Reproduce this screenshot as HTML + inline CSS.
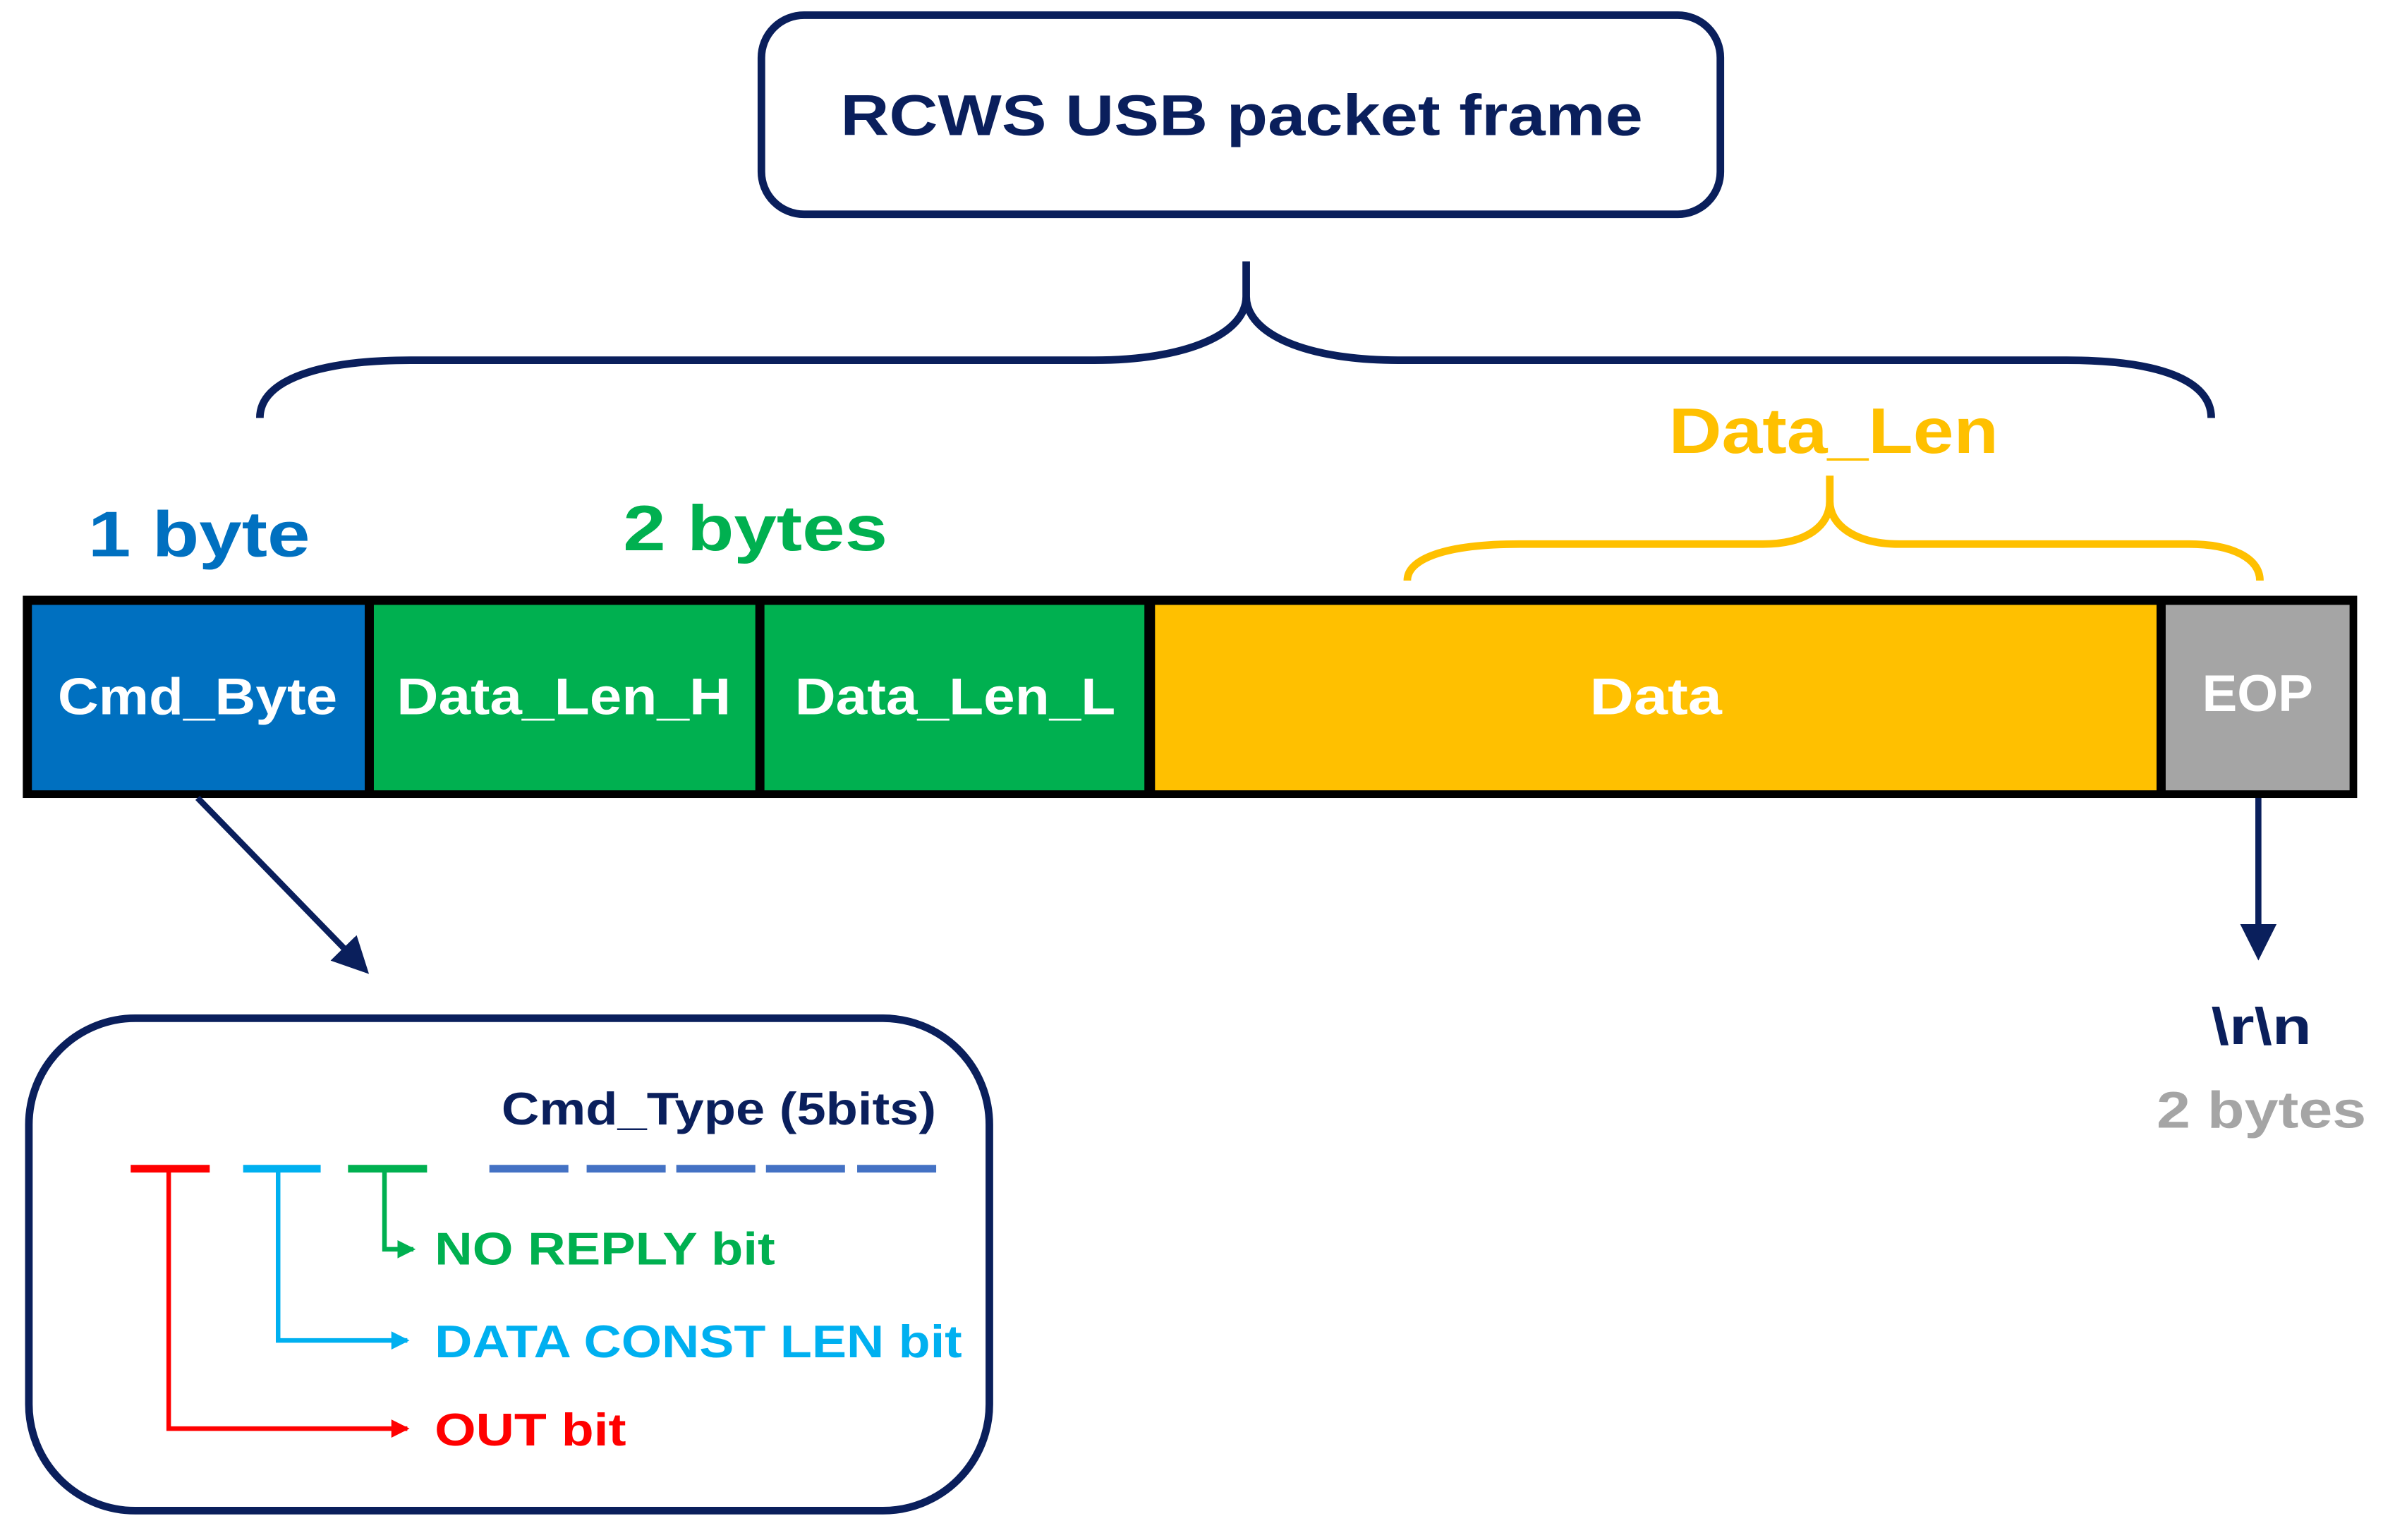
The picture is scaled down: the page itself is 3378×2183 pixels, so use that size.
<!DOCTYPE html>
<html><head><meta charset="utf-8"><style>html,body{margin:0;padding:0;background:#fff}svg{display:block}text{font-family:"Liberation Sans",sans-serif;font-weight:bold}</style></head>
<body>
<svg width="3378" height="2183" viewBox="0 0 1568 1013.3" preserveAspectRatio="none" xmlns="http://www.w3.org/2000/svg">
<defs>
<marker id="an" markerWidth="6" markerHeight="6" refX="5" refY="3" orient="auto" markerUnits="strokeWidth"><path d="M0,0 L6,3 L0,6 z" fill="#0a1f5c"/></marker>
<marker id="ar" markerWidth="4" markerHeight="4" refX="3.5" refY="2" orient="auto" markerUnits="strokeWidth"><path d="M0,0 L4,2 L0,4 z" fill="#ff0000"/></marker>
<marker id="ac" markerWidth="4" markerHeight="4" refX="3.5" refY="2" orient="auto" markerUnits="strokeWidth"><path d="M0,0 L4,2 L0,4 z" fill="#00b0f0"/></marker>
<marker id="ag" markerWidth="4" markerHeight="4" refX="3.5" refY="2" orient="auto" markerUnits="strokeWidth"><path d="M0,0 L4,2 L0,4 z" fill="#00b050"/></marker>
</defs>
<rect x="501" y="10" width="631" height="131" rx="28" fill="#fff" stroke="#0a1f5c" stroke-width="5"/>
<text x="553" y="89" font-size="38" fill="#0a1f5c" textLength="528" lengthAdjust="spacingAndGlyphs">RCWS USB packet frame</text>
<path d="M171,275 C171,250 210,237 270,237 L720,237 C780,237 820,220 820,195 L820,172 M820,195 C820,220 860,237 920,237 L1360,237 C1420,237 1455,250 1455,275" fill="none" stroke="#0a1f5c" stroke-width="5"/>
<text x="1098" y="298" font-size="42" fill="#ffc000" textLength="217" lengthAdjust="spacingAndGlyphs">Data_Len</text>
<path d="M926,382 C926,368 950,358 1000,358 L1160,358 C1190,358 1204,345 1204,330 L1204,313 M1204,330 C1204,345 1220,358 1250,358 L1440,358 C1470,358 1487,368 1487,382" fill="none" stroke="#ffc000" stroke-width="5"/>
<text x="58" y="366" font-size="42" fill="#0070c0" textLength="146" lengthAdjust="spacingAndGlyphs">1 byte</text>
<text x="410" y="362" font-size="42" fill="#00b050" textLength="174" lengthAdjust="spacingAndGlyphs">2 bytes</text>
<rect x="15" y="392" width="1536" height="133" fill="#000"/>
<rect x="21" y="398" width="219" height="122" fill="#0070c0"/>
<rect x="246" y="398" width="251" height="122" fill="#00b050"/>
<rect x="503" y="398" width="250" height="122" fill="#00b050"/>
<rect x="760" y="398" width="659" height="122" fill="#ffc000"/>
<rect x="1425" y="398" width="121" height="122" fill="#a5a5a5"/>
<g font-size="34" fill="#fff">
<text x="38" y="470" textLength="184" lengthAdjust="spacingAndGlyphs">Cmd_Byte</text>
<text x="261" y="470" textLength="220" lengthAdjust="spacingAndGlyphs">Data_Len_H</text>
<text x="523" y="470" textLength="211" lengthAdjust="spacingAndGlyphs">Data_Len_L</text>
<text x="1046" y="470" textLength="87" lengthAdjust="spacingAndGlyphs">Data</text>
<text x="1449" y="468" textLength="73" lengthAdjust="spacingAndGlyphs">EOP</text>
</g>
<line x1="130" y1="525" x2="240" y2="638" stroke="#0a1f5c" stroke-width="4" marker-end="url(#an)"/>
<line x1="1486" y1="525" x2="1486" y2="628" stroke="#0a1f5c" stroke-width="4" marker-end="url(#an)"/>
<text x="1455" y="687" font-size="34" fill="#0a1f5c" textLength="66" lengthAdjust="spacingAndGlyphs">\r\n</text>
<text x="1419" y="742" font-size="34" fill="#a5a5a5" textLength="138" lengthAdjust="spacingAndGlyphs">2 bytes</text>
<rect x="19" y="670" width="632" height="324" rx="70" fill="#fff" stroke="#0a1f5c" stroke-width="5"/>
<text x="330" y="740" font-size="30" fill="#0a1f5c" textLength="286" lengthAdjust="spacingAndGlyphs">Cmd_Type (5bits)</text>
<g stroke-width="5">
<line x1="86" y1="769" x2="138" y2="769" stroke="#ff0000"/>
<line x1="160" y1="769" x2="211" y2="769" stroke="#00b0f0"/>
<line x1="229" y1="769" x2="281" y2="769" stroke="#00b050"/>
<g stroke="#4472c4"><line x1="322" y1="769" x2="374" y2="769"/><line x1="386" y1="769" x2="438" y2="769"/><line x1="445" y1="769" x2="497" y2="769"/><line x1="504" y1="769" x2="556" y2="769"/><line x1="564" y1="769" x2="616" y2="769"/></g>
</g>
<g fill="none" stroke-width="3">
<path d="M111,769 L111,940 L268,940" stroke="#ff0000" marker-end="url(#ar)"/>
<path d="M183,769 L183,882 L268,882" stroke="#00b0f0" marker-end="url(#ac)"/>
<path d="M253,769 L253,822 L272,822" stroke="#00b050" marker-end="url(#ag)"/>
</g>
<text x="286" y="832" font-size="30" fill="#00b050" textLength="224" lengthAdjust="spacingAndGlyphs">NO REPLY bit</text>
<text x="286" y="893" font-size="30" fill="#00b0f0" textLength="347" lengthAdjust="spacingAndGlyphs">DATA CONST LEN bit</text>
<text x="286" y="951" font-size="30" fill="#ff0000" textLength="126" lengthAdjust="spacingAndGlyphs">OUT bit</text>
</svg>
</body></html>
